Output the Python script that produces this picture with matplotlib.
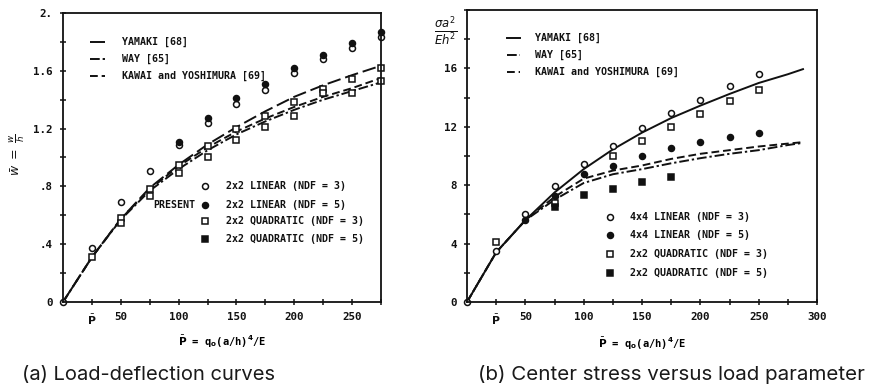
import numpy as np
import matplotlib
matplotlib.use("Agg")
import matplotlib.pyplot as plt
from matplotlib.ticker import MultipleLocator, FixedLocator, FixedFormatter

# ---------------- data: (a) load-deflection ----------------
a_curve_x = [0, 25, 50, 75, 100, 125, 150, 175, 200, 225, 250, 275]
a_yamaki = [0, 0.31, 0.575, 0.79, 0.95, 1.09, 1.21, 1.32, 1.42, 1.50, 1.57, 1.635]
a_way = [0, 0.31, 0.57, 0.77, 0.92, 1.05, 1.16, 1.25, 1.33, 1.40, 1.46, 1.52]
a_kawai = [0, 0.31, 0.575, 0.78, 0.94, 1.07, 1.18, 1.27, 1.35, 1.42, 1.48, 1.55]

a_pts_x = [0, 25, 50, 75, 100, 125, 150, 175, 200, 225, 250, 275]
a_lin3 = [0, 0.373, 0.69, 0.905, 1.085, 1.236, 1.37, 1.47, 1.585, 1.68, 1.76, 1.835]
a_lin5 = [np.nan, np.nan, np.nan, np.nan, 1.11, 1.275, 1.41, 1.507, 1.62, 1.71, 1.79, 1.87]
a_quad3_hi = [np.nan, 0.31, 0.58, 0.785, 0.947, 1.078, 1.20, 1.29, 1.387, 1.477, 1.54, 1.616]
a_quad3_lo = [np.nan, np.nan, 0.55, 0.736, 0.89, 1.005, 1.12, 1.21, 1.29, 1.444, 1.444, 1.53]

# ---------------- data: (b) center stress ----------------
b_curve_x = [0, 25, 50, 75, 100, 125, 150, 175, 200, 225, 250, 275, 288]
b_yamaki = [0, 3.4, 5.6, 7.5, 9.1, 10.45, 11.6, 12.6, 13.45, 14.25, 15.0, 15.6, 15.95]
b_way = [0, 3.4, 5.6, 7.0, 8.15, 8.75, 9.1, 9.5, 9.85, 10.15, 10.4, 10.75, 10.9]
b_kawai = [0, 3.4, 5.6, 7.2, 8.45, 9.0, 9.35, 9.8, 10.15, 10.4, 10.65, 10.85, 10.95]

b_pts_x = [0, 25, 50, 75, 100, 125, 150, 175, 200, 225, 250]
b_lin3 = [0, 3.49, 6.03, 7.97, 9.43, 10.71, 11.9, 12.92, 13.84, 14.79, 15.62]
b_lin5 = [np.nan, np.nan, 5.6, 7.28, 8.75, 9.34, 10.02, 10.53, 10.98, 11.28, 11.6]
b_quad3 = [np.nan, 4.13, np.nan, 6.8, np.nan, 10.0, 11.05, 12.0, 12.88, 13.79, 14.52]
b_quad5 = [np.nan, np.nan, np.nan, 6.53, 7.33, 7.72, 8.24, 8.54, np.nan, np.nan, np.nan]

legend_lines = ["YAMAKI [68]", "WAY [65]", "KAWAI and YOSHIMURA [69]"]
a_marker_labels = ["2x2 LINEAR (NDF = 3)", "2x2 LINEAR (NDF = 5)",
                   "2x2 QUADRATIC (NDF = 3)", "2x2 QUADRATIC (NDF = 5)"]
b_marker_labels = ["4x4 LINEAR (NDF = 3)", "4x4 LINEAR (NDF = 5)",
                   "2x2 QUADRATIC (NDF = 3)", "2x2 QUADRATIC (NDF = 5)"]

MONO = ["DejaVu Sans Mono"]
TFS = 7.2
INK = "#111111"

fig = plt.figure(figsize=(8.73, 3.90), dpi=100)
axa = fig.add_axes([63/873, 88/390, 318/873, 289/390])
axb = fig.add_axes([467/873, 88/390, 350/873, 292/390])

yam_ls_a = (0, (7, 2.5))
way_ls = (0, (5, 1.5, 1.2, 1.5))
kaw_ls = (0, (4, 2))

lw = 1.4
ms = 4.3

# ---- (a) ----
axa.plot(a_curve_x, a_yamaki, color=INK, lw=lw, ls=yam_ls_a)
axa.plot(a_curve_x, a_way, color=INK, lw=lw, ls=way_ls)
axa.plot(a_curve_x, a_kawai, color=INK, lw=lw, ls=kaw_ls)
axa.plot(a_pts_x, a_lin3, 'o', ms=ms, mfc='white', mec=INK, mew=1.1, clip_on=False)
axa.plot(a_pts_x, a_lin5, 'o', ms=ms, mfc=INK, mec=INK, mew=1.1, clip_on=False)
axa.plot(a_pts_x, a_quad3_hi, 's', ms=ms, mfc='white', mec=INK, mew=1.1, clip_on=False)
axa.plot(a_pts_x, a_quad3_lo, 's', ms=ms, mfc='white', mec=INK, mew=1.1, clip_on=False)

axa.set_xlim(0, 275)
axa.set_ylim(0, 2.0)

# line legend (a)
for i, (lab, ls) in enumerate(zip(legend_lines, [(0, (10, 0)), way_ls, kaw_ls])):
    yv = [1.80, 1.68, 1.565][i]
    axa.plot([23, 36], [yv, yv], color=INK, lw=lw, ls=ls)
    axa.text(51, yv, lab, fontsize=TFS, family=MONO, weight='bold', va='center', color=INK)
# marker legend (a)
mk = [('o', 'white'), ('o', INK), ('s', 'white'), ('s', INK)]
for i, lab in enumerate(a_marker_labels):
    yv = [0.80, 0.674, 0.558, 0.435][i]
    axa.plot([123], [yv], mk[i][0], ms=ms, mfc=mk[i][1], mec=INK, mew=1.1)
    axa.text(141, yv, lab, fontsize=TFS, family=MONO, weight='bold', va='center', color=INK)
axa.text(114, 0.674, "PRESENT", fontsize=TFS, family=MONO, weight='bold', va='center', ha='right', color=INK)

axa.xaxis.set_major_locator(FixedLocator([25, 50, 100, 150, 200, 250]))
axa.xaxis.set_major_formatter(FixedFormatter([r'$\bar{\mathbf{P}}$', '50', '100', '150', '200', '250']))
axa.xaxis.set_minor_locator(MultipleLocator(25))
axa.yaxis.set_major_locator(FixedLocator([0, 0.4, 0.8, 1.2, 1.6, 2.0]))
axa.yaxis.set_major_formatter(FixedFormatter(['0', '.4', '.8', '1.2', '1.6', '2.']))
axa.yaxis.set_minor_locator(MultipleLocator(0.2))
axa.set_xlabel(r'$\bar{\mathbf{P}}$ = q$_\mathbf{o}$(a/h)$^\mathbf{4}$/E', fontsize=TFS + 0.3, family=MONO,
               weight='bold', labelpad=5)
fig.text(18/873, 1 - 155/390, r'$\bar{w}\ =\ \frac{w}{h}$', fontsize=9, color=INK,
         rotation=90, ha='center', va='center')

# ---- (b) ----
axb.plot(b_curve_x, b_yamaki, color=INK, lw=lw, ls='-')
axb.plot(b_curve_x, b_way, color=INK, lw=lw, ls=way_ls)
axb.plot(b_curve_x, b_kawai, color=INK, lw=lw, ls=kaw_ls)
axb.plot(b_pts_x, b_lin3, 'o', ms=ms, mfc='white', mec=INK, mew=1.1, clip_on=False)
axb.plot(b_pts_x, b_lin5, 'o', ms=ms, mfc=INK, mec=INK, mew=1.1, clip_on=False)
axb.plot(b_pts_x, b_quad3, 's', ms=ms, mfc='white', mec=INK, mew=1.1, clip_on=False)
axb.plot(b_pts_x, b_quad5, 's', ms=ms, mfc=INK, mec=INK, mew=1.1, clip_on=False)
axb.set_xlim(0, 300)
axb.set_ylim(0, 20)

for i, (lab, ls) in enumerate(zip(legend_lines, ['-', way_ls, kaw_ls])):
    yv = [18.06, 16.92, 15.77][i]
    axb.plot([34, 45], [yv, yv], color=INK, lw=lw, ls=ls)
    axb.text(58, yv, lab, fontsize=TFS, family=MONO, weight='bold', va='center', color=INK)
for i, lab in enumerate(b_marker_labels):
    yv = [5.84, 4.59, 3.29, 2.0][i]
    axb.plot([122.5], [yv], mk[i][0], ms=ms, mfc=mk[i][1], mec=INK, mew=1.1)
    axb.text(140, yv, lab, fontsize=TFS, family=MONO, weight='bold', va='center', color=INK)

axb.xaxis.set_major_locator(FixedLocator([25, 50, 100, 150, 200, 250, 300]))
axb.xaxis.set_major_formatter(FixedFormatter([r'$\bar{\mathbf{P}}$', '50', '100', '150', '200', '250', '300']))
axb.xaxis.set_minor_locator(MultipleLocator(25))
axb.yaxis.set_major_locator(FixedLocator([0, 4, 8, 12, 16]))
axb.yaxis.set_minor_locator(MultipleLocator(2))
axb.set_xlabel(r'$\bar{\mathbf{P}}$ = q$_\mathbf{o}$(a/h)$^\mathbf{4}$/E', fontsize=TFS + 0.3, family=MONO,
               weight='bold', labelpad=7)
axb.text(-0.06, 0.925, r'$\frac{\sigma a^2}{Eh^2}$', transform=axb.transAxes, fontsize=12,
         ha='center', va='center', color=INK)

for ax in (axa, axb):
    for s in ax.spines.values():
        s.set_linewidth(1.3)
        s.set_color(INK)
    ax.tick_params(which='both', direction='inout', length=5, width=1.1, colors=INK,
                   labelsize=7.8, pad=5)
    ax.tick_params(which='minor', length=4)
    for lab in ax.get_xticklabels() + ax.get_yticklabels():
        lab.set_family(MONO)
        lab.set_weight('bold')

fig.text(22/873, 1 - 375/390, "(a) Load-deflection curves", fontsize=14.5, va='center',
         ha='left', family=["Inter", "DejaVu Sans"], color='#1a1a1a')
fig.text(478/873, 1 - 375/390, "(b) Center stress versus load parameter", fontsize=14.8,
         va='center', ha='left', family=["Inter", "DejaVu Sans"], color='#1a1a1a')

fig.savefig("out.png", dpi=100)
